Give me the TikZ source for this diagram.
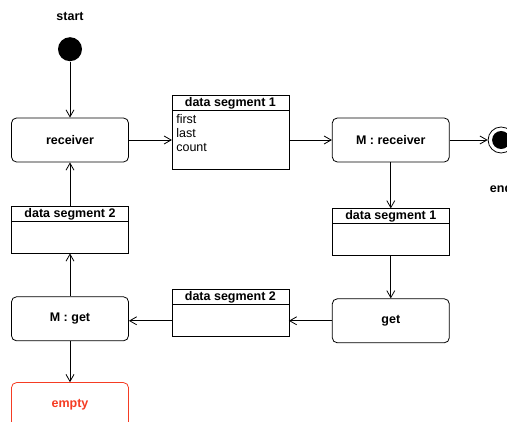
\documentclass[tikz,border=0pt]{standalone}
\usepackage{fontspec}
\setmainfont{Liberation Sans}
\usetikzlibrary{arrows.meta,positioning}
\definecolor{emptyred}{RGB}{245,60,35}

\begin{document}
\begin{tikzpicture}[auto,>={Straight Barb[length=7pt,width=8pt]}, x=1pt, y=-1pt, node distance=43pt, line width=0.8pt, font=\fontsize{12.5}{14}\selectfont]
	    \tikzstyle{state}=[draw=black,rectangle,rounded corners=5pt,minimum width=117pt,minimum height=44pt,font=\fontsize{12.5}{14}\selectfont\bfseries]
	    \tikzstyle{seg head}=[draw=black,rectangle,outer sep=0pt,inner sep=0pt,minimum width=117pt,minimum height=15pt,font=\fontsize{12.5}{14}\selectfont\bfseries]
	    \tikzstyle{seg body}=[draw=black,rectangle,outer sep=0pt,minimum width=117pt,minimum height=32pt]
	    \tikzstyle{field}=[inner sep=1pt,align=left]
	    \tikzstyle{tag}=[font=\fontsize{12.5}{14}\selectfont\bfseries]
	    
	    \useasboundingbox (0,0) rectangle (507,422);
	    \clip (0,0) rectangle (507,422);
	    
	    \node[state] (receiver) at (70,140) {receiver};
	    \node[circle, fill=black, minimum size=24pt, inner sep=0pt, label={[tag, label distance=12pt]above:start}] (start) [above=56pt of receiver] {};
	    \node[seg body, minimum height=59pt] (seg one) [right=of receiver] {};
	    \node[seg head] (seg one head) [above=0pt of seg one] {data segment 1};
	    \node[field] (seg one fields) [below right=3pt and 3pt of seg one.north west] {first\\last\\count};
	    \node[state] (m receiver) [right=of seg one] {M : receiver};
	    \node[circle, draw=black, minimum size=26pt, inner sep=0pt, path picture={\fill[black] (path picture bounding box.center) circle (9pt);}, label={[tag, label distance=26pt]below:end}] (end) [right=38pt of m receiver] {};
	    \node[seg head] (seg one b head) [below=46pt of m receiver] {data segment 1};
	    \node[seg body] (seg one b) [below=0pt of seg one b head] {};
	    \node[state] (get) [below=of seg one b] {get};
	    \node[seg body] (seg two b) [left=of get] {};
	    \node[seg head] (seg two b head) [above=0pt of seg two b] {data segment 2};
	    \node[seg head] (seg two head) [below=44pt of receiver] {data segment 2};
	    \node[seg body] (seg two) [below=0pt of seg two head] {};
	    \node[state] (m get) [below=of seg two] {M : get};
	    \node[state, draw=emptyred, text=emptyred] (empty) [below=41pt of m get] {empty};
	    
	    \path[->]
	    (start) 			edge (receiver)
	    (receiver) 			edge (seg one)
	    (seg one) 			edge (m receiver)
	    (m receiver) 		edge (end)
	    (m receiver) 		edge (seg one b head)
	    (seg one b) 		edge (get)
	    (get) 				edge (seg two b)
	    (seg two b.west) 	edge (seg two b.west -| m get.east)
	    (m get) 			edge (seg two)
	    (seg two head) 		edge (receiver)
	    (m get) 			edge (empty)
	    ;
    
\end{tikzpicture}
\end{document}
